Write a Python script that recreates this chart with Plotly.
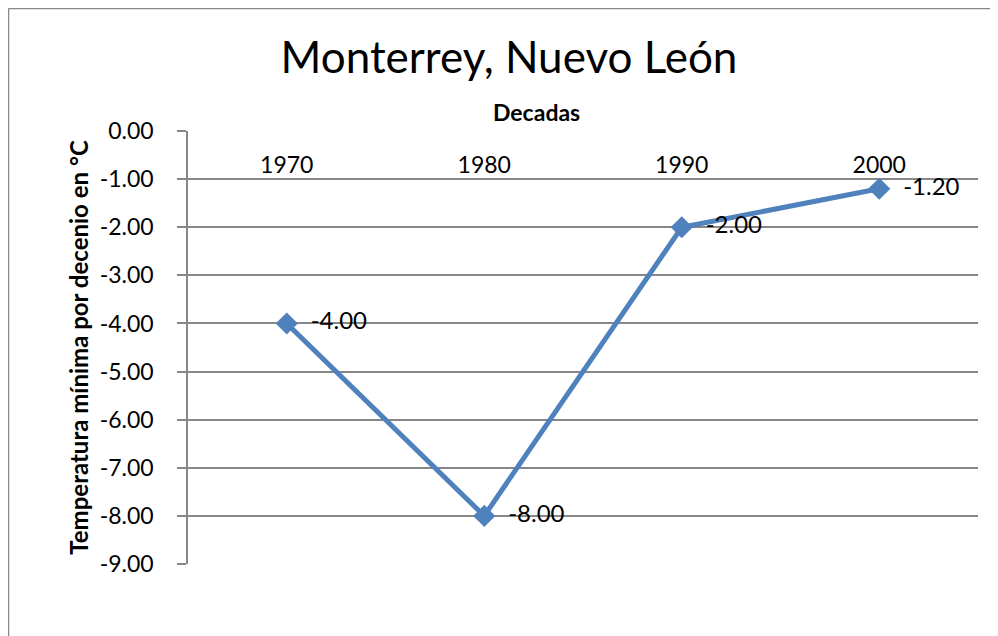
import plotly.graph_objects as go

decades = ["1970", "1980", "1990", "2000"]
temp_min = [-4.00, -8.00, -2.00, -1.20]
y_tickvals = [0, -1, -2, -3, -4, -5, -6, -7, -8, -9]
y_ticktext = ["0.00", "-1.00", "-2.00", "-3.00", "-4.00", "-5.00", "-6.00", "-7.00", "-8.00", "-9.00"]

FONT = "Lato"
GRID = "#878787"
BLUE = "#4F81BD"

# page body has an 8px margin; work in screen pixels and convert
OFF = 8
W, H = 998 - OFF, 636 - OFF
L, R, T, B = 188 - OFF, 20, 131 - OFF, 72
PW, PH = W - L - R, H - T - B


def px_x(x):
    return (x - OFF - L) / PW


def px_y(y):
    return (H - B - (y - OFF)) / PH


fig = go.Figure()
fig.add_trace(go.Scatter(
    x=decades, y=temp_min,
    mode="lines+markers+text",
    line=dict(color=BLUE, width=5),
    marker=dict(symbol="diamond", size=17, color=BLUE),
    text=["  " + f"{v:.2f}" for v in temp_min],
    textposition="middle right",
    textfont=dict(family=FONT, size=24, color="black"),
    cliponaxis=False,
    showlegend=False,
))

fig.update_layout(
    width=W, height=H,
    margin=dict(l=L, r=R, t=T, b=B),
    paper_bgcolor="white", plot_bgcolor="white",
    font=dict(family=FONT, color="black"),
    title=dict(text="Monterrey, Nuevo León", x=(509 - OFF) / W, xref="container", xanchor="center",
               y=1 - (58 - OFF) / H, yref="container", yanchor="middle",
               font=dict(family=FONT, size=44, color="black")),
    xaxis=dict(
        type="category", side="bottom", anchor="free", position=px_y(149),
        tickfont=dict(family=FONT, size=23),
        showgrid=False, showline=False, ticks="", zeroline=False,
        range=[-0.5, 3.5], automargin=False,
    ),
    yaxis=dict(
        range=[-9, 0], tickvals=y_tickvals, ticktext=y_ticktext,
        tickfont=dict(family=FONT, size=23),
        showgrid=True, gridcolor=GRID, gridwidth=1.5,
        showline=True, linecolor=GRID, linewidth=1.5,
        ticks="outside", ticklen=9, tickcolor=GRID, tickwidth=1.5,
        ticklabelstandoff=19,
        zeroline=False, automargin=False,
        title=dict(text="<b>Temperatura mínima por decenio en °C</b>",
                   font=dict(family=FONT, size=24), standoff=4),
    ),
    annotations=[
        dict(text="<b>Decadas</b>", xref="paper", yref="paper",
             x=px_x(536), y=px_y(112), xanchor="center", yanchor="middle",
             showarrow=False, font=dict(family=FONT, size=23, color="black")),
    ],
    shapes=[
        dict(type="line", xref="paper", yref="paper",
             x0=px_x(8.5), x1=px_x(8.5), y0=px_y(8.5), y1=px_y(640),
             line=dict(color="#888888", width=1.5)),
        dict(type="line", xref="paper", yref="paper",
             x0=px_x(8.5), x1=px_x(992), y0=px_y(8.5), y1=px_y(8.5),
             line=dict(color="#888888", width=1.5)),
    ],
)

fig.write_html("out.html")
